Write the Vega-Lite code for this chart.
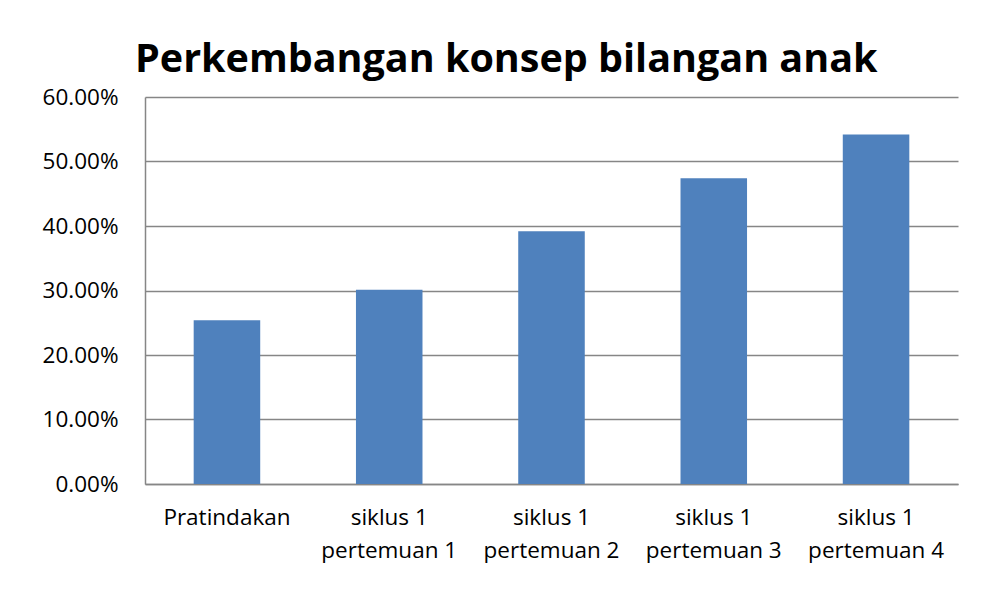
{
  "$schema": "https://vega.github.io/schema/vega-lite/v6.json",
  "autosize": "none",
  "width": 813,
  "height": 387,
  "padding": {"left": 145, "top": 97, "right": 27, "bottom": 128},
  "background": "white",
  "title": {
    "text": "Perkembangan konsep bilangan anak",
    "font": "Open Sans",
    "fontSize": 39.5,
    "fontWeight": "bold",
    "color": "black",
    "anchor": "start",
    "frame": "group",
    "dx": -10,
    "offset": 6
  },
  "data": {
    "values": [
      {"kategori": "Pratindakan", "nilai": 0.254},
      {"kategori": "siklus 1|pertemuan 1", "nilai": 0.301},
      {"kategori": "siklus 1|pertemuan 2", "nilai": 0.392},
      {"kategori": "siklus 1|pertemuan 3", "nilai": 0.474},
      {"kategori": "siklus 1|pertemuan 4", "nilai": 0.542}
    ]
  },
  "mark": {"type": "bar", "color": "#4F81BD"},
  "encoding": {
    "x": {
      "field": "kategori",
      "type": "nominal",
      "sort": null,
      "scale": {"paddingInner": 0.59, "paddingOuter": 0.3},
      "axis": {
        "title": null,
        "labelAngle": 0,
        "labelExpr": "split(datum.value, '|')",
        "labelFont": "Open Sans",
        "labelFontSize": 22.5,
        "labelColor": "black",
        "labelLineHeight": 33,
        "labelPadding": 22,
        "ticks": false,
        "domainColor": "#868686",
        "domainWidth": 1.5
      }
    },
    "y": {
      "field": "nilai",
      "type": "quantitative",
      "scale": {"domain": [0, 0.6]},
      "axis": {
        "title": null,
        "format": ".2%",
        "values": [0, 0.1, 0.2, 0.3, 0.4, 0.5, 0.6],
        "labelFont": "Open Sans",
        "labelFontSize": 22.5,
        "labelColor": "black",
        "labelPadding": 27,
        "ticks": false,
        "domainColor": "#868686",
        "domainWidth": 1.5,
        "gridColor": "#868686",
        "gridWidth": 1.5
      }
    }
  },
  "config": {"view": {"stroke": null}}
}
